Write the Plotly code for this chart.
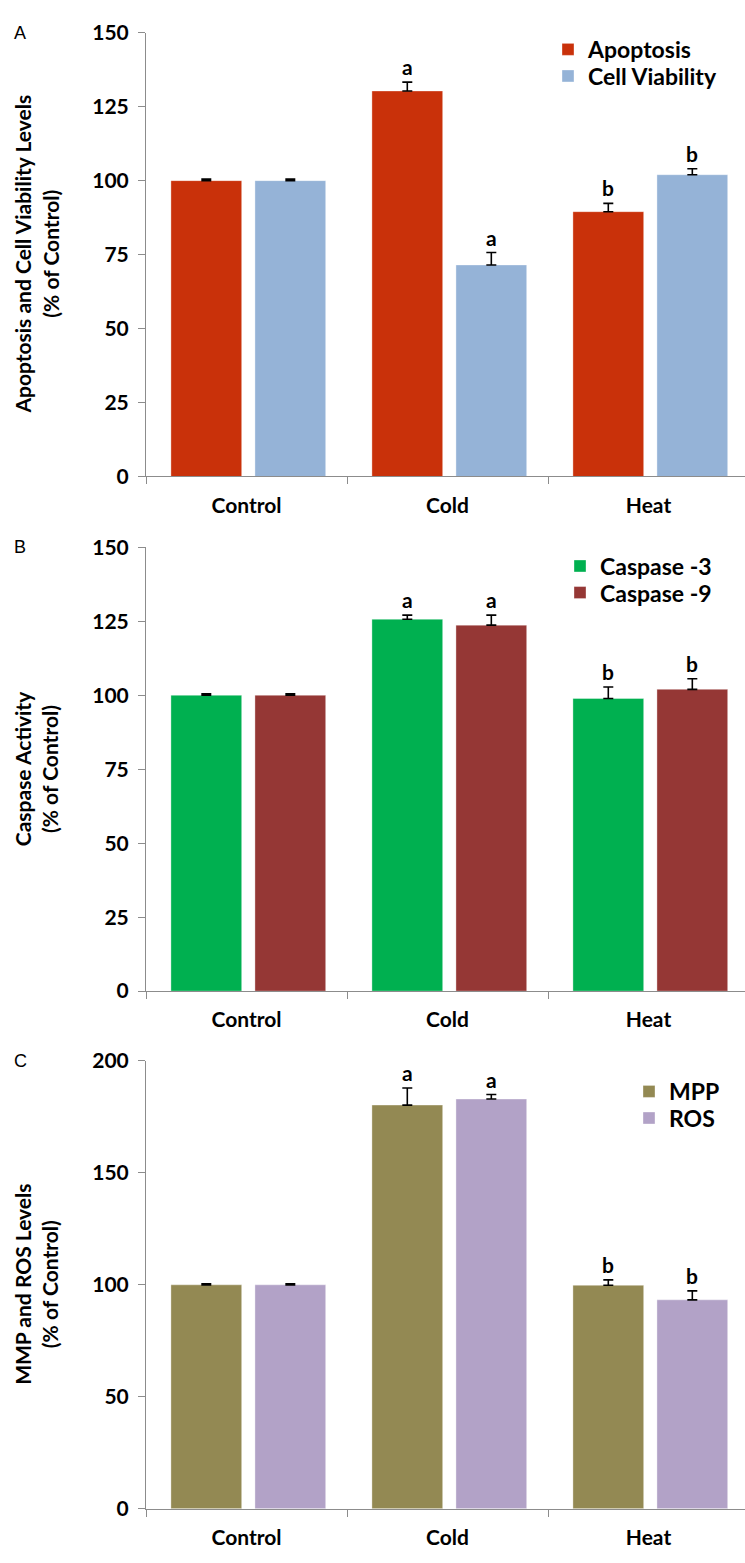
import plotly.graph_objects as go

# ---------------- data ----------------
groups = ["Control", "Cold", "Heat"]

apoptosis = [100, 130.3, 89.5]
apoptosis_err = [0.5, 3.0, 2.8]
apoptosis_sig = ["", "a", "b"]
viability = [100, 71.5, 102.0]
viability_err = [0.5, 4.2, 2.0]
viability_sig = ["", "a", "b"]

casp3 = [100, 125.7, 98.9]
casp3_err = [0.5, 1.4, 3.9]
casp3_sig = ["", "a", "b"]
casp9 = [100, 123.7, 102.0]
casp9_err = [0.5, 3.4, 3.6]
casp9_sig = ["", "a", "b"]

mpp = [100, 180.3, 99.8]
mpp_err = [0.5, 7.6, 2.4]
mpp_sig = ["", "a", "b"]
ros = [100, 183.0, 93.3]
ros_err = [0.5, 2.0, 4.0]
ros_sig = ["", "a", "b"]

y_ticks_ab = [0, 25, 50, 75, 100, 125, 150]
y_ticks_c = [0, 50, 100, 150, 200]

# ---------------- geometry ----------------
W, H = 745, 1563
FONT = "Lato"
AXIS_GREY = "#8c8c8c"


def py(px):
    return 1 - px / H


x_dom = [146 / W, 1.0]
panels = [
    dict(top=19, bottom=470, ymax=150, ticks=y_ticks_ab,
         title="Apoptosis and Cell Viability Levels<br>(% of Control)", letter="A",
         series=[("Apoptosis", apoptosis, apoptosis_err, apoptosis_sig, "#C9310A"),
                 ("Cell Viability", viability, viability_err, viability_sig, "#95B3D7")],
         legend_x=548, legend_rows=(36, 63)),
    dict(top=542, bottom=993, ymax=150, ticks=y_ticks_ab,
         title="Caspase Activity<br>(% of Control)", letter="B",
         series=[("Caspase -3", casp3, casp3_err, casp3_sig, "#00B050"),
                 ("Caspase -9", casp9, casp9_err, casp9_sig, "#953735")],
         legend_x=560, legend_rows=(561, 588)),
    dict(top=1064, bottom=1519, ymax=200, ticks=y_ticks_c,
         title="MMP and ROS Levels<br>(% of Control)", letter="C",
         series=[("MPP", mpp, mpp_err, mpp_sig, "#938953"),
                 ("ROS", ros, ros_err, ros_sig, "#B2A2C7")],
         legend_x=629, legend_rows=(1095, 1122)),
]

bar_w = 0.352
offsets = [-0.376, 0.042]

fig = go.Figure()
annotations = []
layout = dict(
    width=W, height=H,
    margin=dict(l=0, r=0, t=0, b=0),
    paper_bgcolor="white", plot_bgcolor="white",
    showlegend=True,
)

leg_n = 0
for i, p in enumerate(panels):
    k = "" if i == 0 else str(i + 1)
    xa, ya = "x" + k, "y" + k
    for j, (name, vals, errs, sig, col) in enumerate(p["series"]):
        leg_n += 1
        leg = "legend" if leg_n == 1 else "legend" + str(leg_n)
        fig.add_trace(go.Bar(
            x=groups, y=vals, name=name, xaxis=xa, yaxis=ya,
            width=bar_w, offset=offsets[j],
            marker=dict(color=col, line=dict(width=1, color="rgba(255,255,255,0.35)")),
            error_y=dict(type="data", symmetric=False, array=errs,
                         arrayminus=[0] * len(errs), color="black",
                         thickness=1.6, width=5),
            legend=leg,
        ))
        layout[leg] = dict(
            x=p["legend_x"] / W, y=py(p["legend_rows"][j]),
            xanchor="left", yanchor="middle",
            bgcolor="rgba(0,0,0,0)", itemwidth=30,
            font=dict(family=FONT, size=23, color="black", weight="bold"),
        )
        for g, (v, e, s) in enumerate(zip(vals, errs, sig)):
            if s:
                annotations.append(dict(
                    x=g + offsets[j] + bar_w / 2, y=v + e, xref=xa, yref=ya,
                    text=s, showarrow=False, yanchor="bottom", yshift=1,
                    font=dict(family=FONT, size=21, color="black", weight="bold"),
                ))
    layout["xaxis" + k] = dict(
        domain=x_dom, anchor=ya, type="category",
        range=[-0.5, -0.5 + (W - 146) / 201],
        showline=True, linecolor=AXIS_GREY, linewidth=1,
        ticks="outside", tickson="boundaries", ticklen=7, tickcolor=AXIS_GREY,
        ticklabelstandoff=10,
        tickfont=dict(family=FONT, size=21, color="black", weight="bold"),
        showgrid=False, zeroline=False, fixedrange=True,
    )
    layout["yaxis" + k] = dict(
        domain=[py(p["bottom"]), py(p["top"])], anchor=xa,
        range=[0, p["ymax"]], tickvals=p["ticks"],
        showline=True, linecolor=AXIS_GREY, linewidth=1,
        ticks="outside", ticklen=7, tickcolor=AXIS_GREY,
        ticklabelstandoff=5,
        tickfont=dict(family=FONT, size=21, color="black", weight="bold"),
        showgrid=False, zeroline=False, fixedrange=True,
    )
    annotations.append(dict(
        x=36 / W, y=py((p["top"] + p["bottom"]) / 2), xref="paper", yref="paper",
        text=p["title"], textangle=-90, showarrow=False,
        xanchor="center", yanchor="middle",
        font=dict(family=FONT, size=21, color="black", weight="bold"),
    ))
    annotations.append(dict(
        x=12 / W, y=py(p["top"]), xref="paper", yref="paper",
        text=p["letter"], showarrow=False, xanchor="left", yanchor="middle",
        font=dict(family="Liberation Sans", size=18, color="black"),
    ))

layout["annotations"] = annotations
fig.update_layout(**layout)
fig.write_html("out.html", config={"displayModeBar": False},
               post_script="document.body.style.margin='0';")
